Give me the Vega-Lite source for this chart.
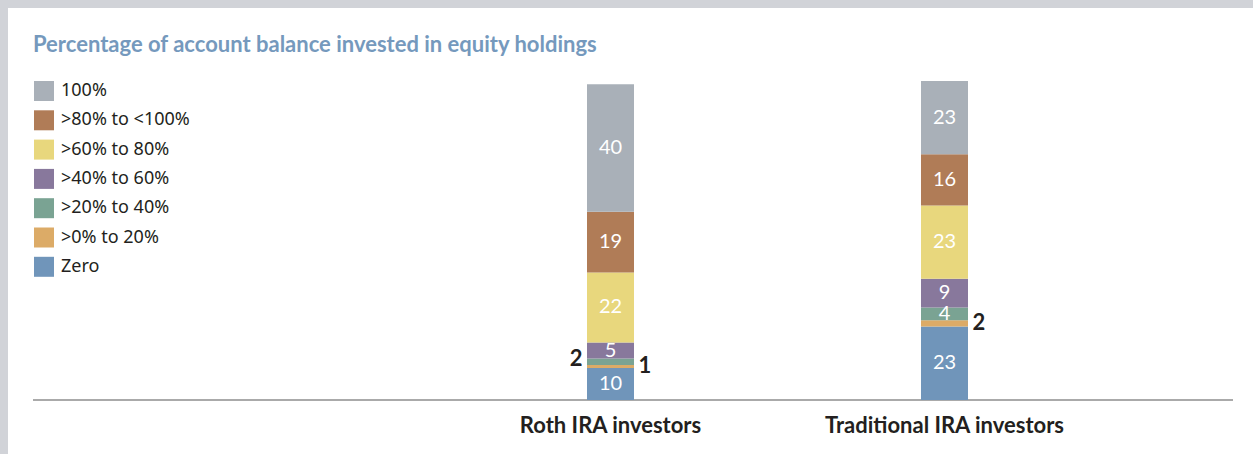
{
  "$schema": "https://vega.github.io/schema/vega-lite/v6.json",
  "width": 1245,
  "height": 446,
  "autosize": {"type": "none"},
  "padding": {"left": 8, "top": 8, "right": 0, "bottom": 0},
  "background": "#d1d3d8",
  "config": {"view": {"fill": "white", "stroke": null}},
  "title": {
    "text": "Percentage of account balance invested in equity holdings",
    "anchor": "start",
    "frame": "group",
    "dx": 25,
    "offset": -49,
    "color": "#7599bd",
    "font": "Lato",
    "fontSize": 22,
    "fontWeight": "bold"
  },
  "data": {
    "values": [
      {"investor": "Roth IRA investors", "range": "Zero", "rank": 0, "value": 10},
      {"investor": "Roth IRA investors", "range": ">0% to 20%", "rank": 1, "value": 1},
      {"investor": "Roth IRA investors", "range": ">20% to 40%", "rank": 2, "value": 2},
      {"investor": "Roth IRA investors", "range": ">40% to 60%", "rank": 3, "value": 5},
      {"investor": "Roth IRA investors", "range": ">60% to 80%", "rank": 4, "value": 22},
      {"investor": "Roth IRA investors", "range": ">80% to <100%", "rank": 5, "value": 19},
      {"investor": "Roth IRA investors", "range": "100%", "rank": 6, "value": 40},
      {"investor": "Traditional IRA investors", "range": "Zero", "rank": 0, "value": 23},
      {"investor": "Traditional IRA investors", "range": ">0% to 20%", "rank": 1, "value": 2},
      {"investor": "Traditional IRA investors", "range": ">20% to 40%", "rank": 2, "value": 4},
      {"investor": "Traditional IRA investors", "range": ">40% to 60%", "rank": 3, "value": 9},
      {"investor": "Traditional IRA investors", "range": ">60% to 80%", "rank": 4, "value": 23},
      {"investor": "Traditional IRA investors", "range": ">80% to <100%", "rank": 5, "value": 16},
      {"investor": "Traditional IRA investors", "range": "100%", "rank": 6, "value": 23}
    ]
  },
  "transform": [
    {"stack": "value", "groupby": ["investor"], "sort": [{"field": "rank", "order": "ascending"}], "as": ["y0", "y1"]},
    {"calculate": "(datum.y0 + datum.y1) / 2", "as": "ymid"}
  ],
  "resolve": {"scale": {"x": "independent"}},
  "layer": [
    {
      "transform": [{"filter": "datum.rank == 0 && datum.investor == 'Roth IRA investors'"}],
      "mark": {"type": "rule", "color": "#aaaaaa", "strokeWidth": 2},
      "encoding": {
        "x": {"datum": 0, "type": "quantitative", "scale": {"domain": [-0.020833, 1.016667], "nice": false, "zero": false}, "axis": null},
        "x2": {"datum": 1},
        "y": {"datum": 0, "type": "quantitative", "scale": {"domain": [-16.93, 122.88], "nice": false, "zero": false}, "axis": null}
      }
    },
    {
      "encoding": {
        "x": {
          "field": "investor",
          "type": "nominal",
          "scale": {"range": [579, 960], "paddingInner": 0.85928, "paddingOuter": 0},
          "axis": {
            "orient": "bottom",
            "offset": -54,
            "domain": false,
            "ticks": false,
            "tickSize": 0,
            "labelPadding": 15,
            "labelAngle": 0,
            "labelLimit": 600,
            "labelFont": "Lato",
            "labelFontSize": 22,
            "labelFontWeight": "bold",
            "labelColor": "#231f20",
            "title": null
          }
        }
      },
      "layer": [
        {
          "mark": {"type": "bar"},
          "encoding": {
            "y": {"field": "y0", "type": "quantitative", "scale": {"domain": [-16.93, 122.88], "nice": false, "zero": false}, "axis": null},
            "y2": {"field": "y1"},
            "color": {
              "field": "range",
              "type": "nominal",
              "scale": {
                "domain": ["100%", ">80% to <100%", ">60% to 80%", ">40% to 60%", ">20% to 40%", ">0% to 20%", "Zero"],
                "range": ["#a9b0b8", "#b07c57", "#e8d77d", "#88789c", "#7aa393", "#dcab67", "#7095ba"]
              },
              "legend": {
                "orient": "none",
                "direction": "vertical",
                "legendX": 26,
                "legendY": 73,
                "title": null,
                "symbolType": "square",
                "symbolSize": 400,
                "symbolStrokeWidth": 0,
                "symbolOpacity": 1,
                "labelFont": "Noto Sans",
                "labelFontSize": 18,
                "labelColor": "#231f20",
                "labelOffset": 7,
                "rowPadding": 9.3
              }
            }
          }
        },
        {
          "transform": [{"filter": "datum.value >= 3"}],
          "mark": {"type": "text", "color": "white", "font": "Lato", "fontSize": 20, "baseline": "middle", "align": "center"},
          "encoding": {
            "y": {"field": "ymid", "type": "quantitative"},
            "text": {"field": "value", "type": "quantitative"}
          }
        },
        {
          "transform": [{"filter": "datum.value < 3 && datum.rank == 2"}],
          "mark": {"type": "text", "color": "#231f20", "font": "Lato", "fontSize": 22, "fontWeight": "bold", "baseline": "middle", "align": "right", "dx": -28, "dy": -3},
          "encoding": {
            "y": {"field": "ymid", "type": "quantitative"},
            "text": {"field": "value", "type": "quantitative"}
          }
        },
        {
          "transform": [{"filter": "datum.value < 3 && datum.rank == 1"}],
          "mark": {"type": "text", "color": "#231f20", "font": "Lato", "fontSize": 22, "fontWeight": "bold", "baseline": "middle", "align": "left", "dx": 28},
          "encoding": {
            "y": {"field": "ymid", "type": "quantitative"},
            "text": {"field": "value", "type": "quantitative"}
          }
        }
      ]
    }
  ]
}
